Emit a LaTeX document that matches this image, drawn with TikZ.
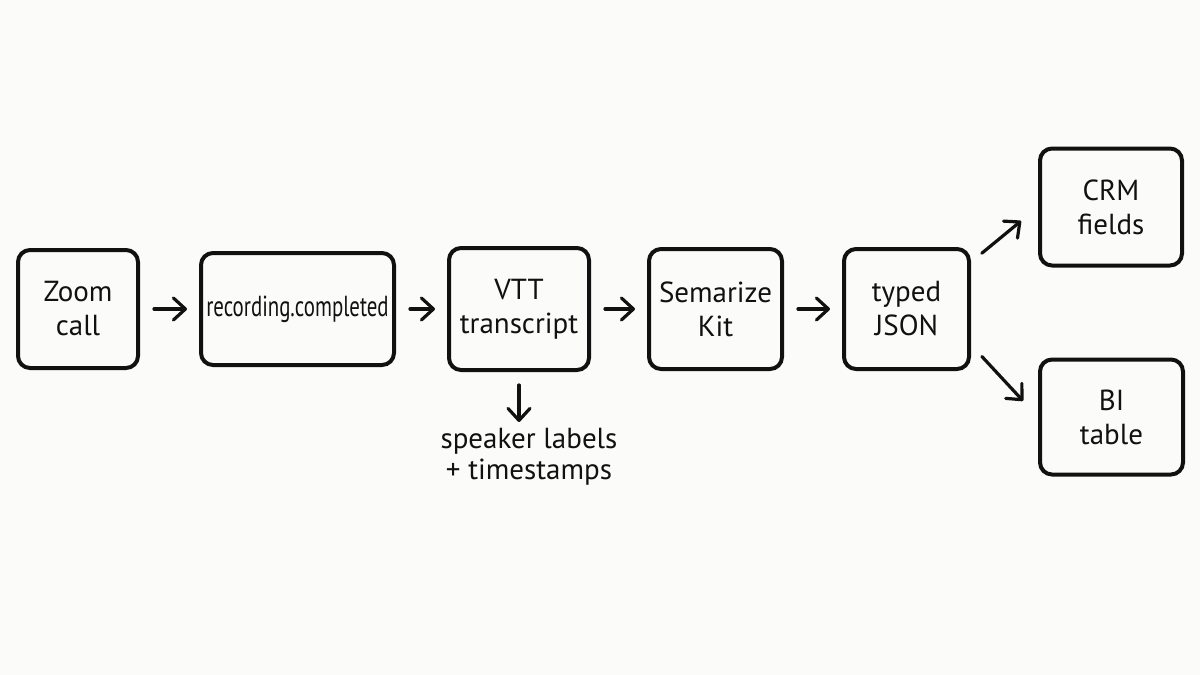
\documentclass[tikz,border=0pt]{standalone}
\usepackage{fontspec}
\setmainfont{PT Sans}
\usepackage{graphicx}
\usetikzlibrary{arrows.meta,positioning,calc}
\definecolor{inkBlack}{RGB}{17,17,17}
\definecolor{paperWhite}{RGB}{251,251,250}

\begin{document}
\begin{tikzpicture}[
    node distance=28pt,
    every node/.style={font=\fontsize{14.5}{17}\selectfont, align=center, text=inkBlack},
    stageBox/.style={rectangle, rounded corners=6pt, draw=inkBlack, line width=2pt, minimum width=62pt, minimum height=60pt, inner sep=1pt},
    noteText/.style={inner sep=0pt, font=\fontsize{14.5}{15.5}\selectfont},
    flowArrow/.style={-{Straight Barb[length=6pt, width=11pt, line cap=round, line join=round]}, line width=1.6pt, draw=inkBlack, line cap=round, shorten <=7pt, shorten >=6pt}
]

% Canvas
\fill[paperWhite] (0pt,0pt) rectangle (600pt,-337.5pt);
\useasboundingbox (0pt,0pt) rectangle (600pt,-337.5pt);

% Nodes
\node (zoom) [stageBox, minimum width=60pt, minimum height=59pt] at (39pt,-154.5pt) {Zoom\\call};
\node (webhook) [stageBox, minimum width=96.5pt, minimum height=56pt, right=29.5pt of zoom] {\scalebox{0.72}[1]{recording.completed}};
\node (vtt) [stageBox, minimum width=70pt, minimum height=61pt, right=25.5pt of webhook] {VTT\\transcript};
\node (kit) [stageBox, minimum width=66.5pt, right=of vtt] {Semarize\\Kit};
\node (json) [stageBox, minimum width=62.5pt, right=29pt of kit] {typed\\JSON};
\node (crm) [stageBox, minimum width=71pt, minimum height=58.5pt, right=33.5pt of json, yshift=51pt] {CRM\\fields};
\node (bi) [stageBox, minimum width=71.5pt, minimum height=57.5pt, right=33.5pt of json, yshift=-54pt] {BI\\table};
\node (notes) [noteText, below=28pt of vtt, xshift=5pt] {speaker labels\\+ timestamps};

% Connectors
\draw [flowArrow] (zoom) -- (webhook);
\draw [flowArrow] (webhook) -- (vtt);
\draw [flowArrow] (vtt) -- (kit);
\draw [flowArrow] (kit) -- (json);
\draw [flowArrow, shorten >=11pt] (json.36) -- (crm.west);
\draw [flowArrow, shorten <=8pt, shorten >=11pt] (json.-29) -- (bi.west);
\draw [flowArrow, shorten <=6.5pt, shorten >=3pt] (vtt.south) -- (vtt.south |- notes.north);

\end{tikzpicture}
\end{document}
